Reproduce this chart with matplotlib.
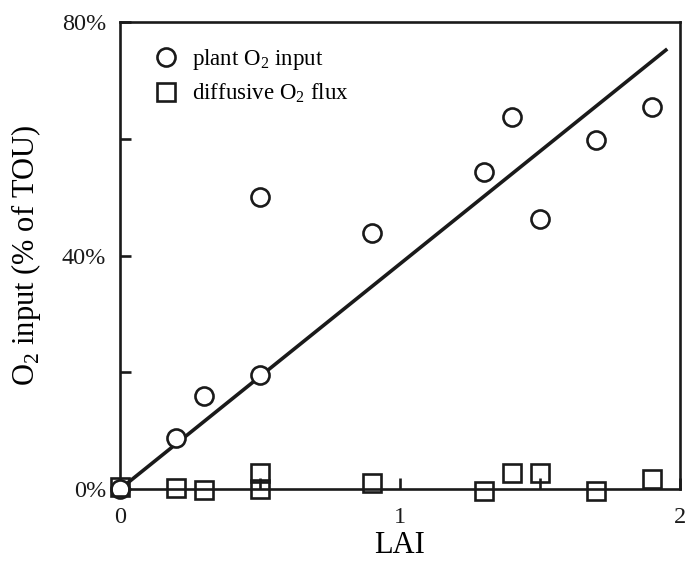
"""O2 input vs LAI scatter with linear fit."""

import matplotlib
matplotlib.use("Agg")
import matplotlib.pyplot as plt
from matplotlib.ticker import FixedLocator, FuncFormatter

plt.rcParams["font.family"] = ["Liberation Serif", "DejaVu Serif"]
plt.rcParams["mathtext.fontset"] = "custom"
plt.rcParams["mathtext.rm"] = "Liberation Serif"

# plant O2 input (% of TOU)
plant_lai = [0.0, 0.2, 0.3, 0.5, 0.5, 0.9, 1.3, 1.4, 1.5, 1.7, 1.9]
plant_pct = [0.0, 8.7, 15.9, 50.0, 19.5, 43.8, 54.3, 63.8, 46.2, 59.8, 65.5]

# diffusive O2 flux (% of TOU)
diff_lai = [0.0, 0.2, 0.3, 0.5, 0.5, 0.9, 1.3, 1.4, 1.5, 1.7, 1.9]
diff_pct = [0.3, 0.2, -0.1, 2.7, 0.0, 1.1, -0.3, 2.8, 2.8, -0.3, 1.8]

# linear fit through the plant data
fit_lai = [0.0, 1.95]
fit_pct = [0.0, 75.2]

x_ticks = [0, 0.5, 1, 1.5, 2]
y_ticks = [0, 20, 40, 60, 80]
y_labeled = {0: "0%", 40: "40%", 80: "80%"}

fig = plt.figure(figsize=(6.86, 5.66), dpi=100)
ax = fig.add_axes([0.175, 0.136, 0.816, 0.825])

ax.plot(fit_lai, fit_pct, color="#1a1a1a", linewidth=2.6, zorder=2)
ax.plot(plant_lai, plant_pct, linestyle="none", marker="o", markersize=13,
        markerfacecolor="white", markeredgecolor="#1a1a1a", markeredgewidth=1.9,
        clip_on=False, zorder=3, label="plant O$_2$ input")
ax.plot(diff_lai, diff_pct, linestyle="none", marker="s", markersize=12.5,
        markerfacecolor="none", markeredgecolor="#1a1a1a", markeredgewidth=1.9,
        clip_on=False, zorder=3, label="diffusive O$_2$ flux")

ax.set_xlim(0, 2)
ax.set_ylim(0, 80)
ax.xaxis.set_major_locator(FixedLocator(x_ticks))
ax.xaxis.set_major_formatter(FuncFormatter(lambda v, p: f"{v:.0f}" if v == int(v) else ""))
ax.yaxis.set_major_locator(FixedLocator(y_ticks))
ax.yaxis.set_major_formatter(FuncFormatter(lambda v, p: y_labeled.get(int(round(v)), "")))

for s in ax.spines.values():
    s.set_linewidth(1.9)
    s.set_color("#1a1a1a")
ax.tick_params(direction="in", length=8, width=1.9, labelsize=17.5, colors="#1a1a1a")
ax.tick_params(axis="x", pad=13)
ax.tick_params(axis="y", pad=10)

ax.set_xlabel("LAI", fontsize=22, labelpad=2)
ax.set_ylabel("O$_2$ input (% of TOU)", fontsize=22)
ax.yaxis.set_label_coords(-0.137, 0.5)

ax.legend(loc="upper left", frameon=False, fontsize=16.5, handletextpad=0.55,
          borderaxespad=0.5, labelspacing=0.4, handlelength=1.2,
          bbox_to_anchor=(0.02, 0.99))

fig.savefig("out.png", dpi=100)
